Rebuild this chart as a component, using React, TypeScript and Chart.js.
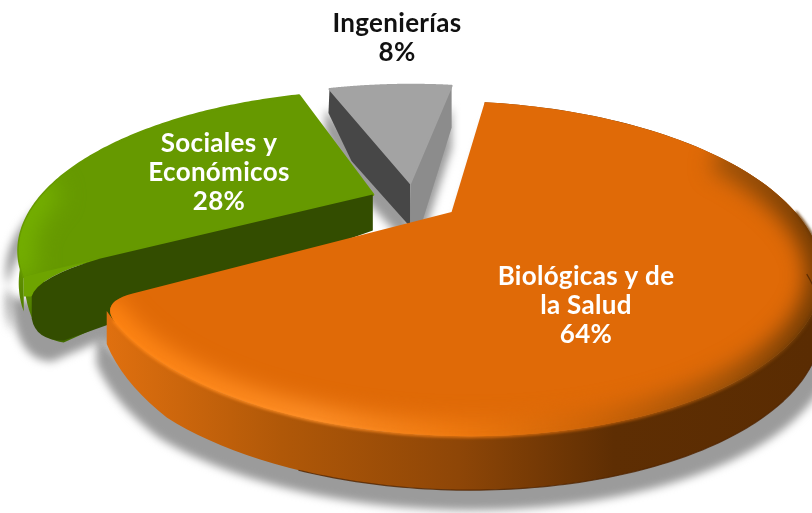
import React, { useEffect, useRef } from "react";
import { Chart, registerables } from "chart.js";

Chart.register(...registerables);

const categories = ["Biológicas y de la Salud", "Sociales y Económicos", "Ingenierías"];
const shares = [64, 28, 8];
const labelLines = [["Biológicas y de", "la Salud", "64%"], ["Sociales y", "Económicos", "28%"], ["Ingenierías", "8%"]];
const sliceColors = ["#e06a07", "#669900", "#a3a3a3"];

const CX = 414, CY = 201, RX = 335, RY = 141, P = 0.33;
const labelCenters = [[586, 306], [219, 173], [397, 38]];
const FONT = 'bold 26px "Lato"';

type Pt = [number, number];

const projector = {
  id: "projector",
  beforeDatasetsDraw(chart: any) {
    const ctx: CanvasRenderingContext2D = chart.ctx;
    const els = chart.getDatasetMeta(0).data;
    const slices = els.map((el: any) => {
      const s = el.getProps(["startAngle", "endAngle", "outerRadius"], true);
      const R = s.outerRadius;
      const d = el.options.offset / R;
      const mid = (s.startAngle + s.endAngle) / 2;
      const ou = d * Math.cos(mid), ov = d * Math.sin(mid);
      const at = (th: number, r = 1): Pt => {
        const u = ou + r * Math.cos(th), v = ov + r * Math.sin(th);
        const w = 1 - P * v;
        return [CX + (RX * u) / w, CY + (RY * v) / w];
      };
      return { a0: s.startAngle, a1: s.endAngle, at };
    });
    const arcPts = (s: any, a: number, b: number, h: (t: number) => number = () => 0) => {
      const n = 120, out: Pt[] = [];
      for (let i = 0; i <= n; i++) {
        const t = a + ((b - a) * i) / n;
        const p = s.at(t);
        out.push([p[0], p[1] + h(t)]);
      }
      return out;
    };
    const trace = (pts: Pt[], close = true) => {
      ctx.beginPath();
      pts.forEach((p, i) => (i ? ctx.lineTo(p[0], p[1]) : ctx.moveTo(p[0], p[1])));
      if (close) ctx.closePath();
    };
    const hGrad = (x0: number, x1: number, stops: [number, string][]) => {
      const g = ctx.createLinearGradient(x0, 0, x1, 0);
      stops.forEach(([o, c]) => g.addColorStop(o, c));
      return g;
    };
    const vGrad = (y0: number, y1: number, stops: [number, string][]) => {
      const g = ctx.createLinearGradient(0, y0, 0, y1);
      stops.forEach(([o, c]) => g.addColorStop(o, c));
      return g;
    };
    const [org, grn, gry] = slices;
    const orgH = (t: number) => {
      const left = org.a1 - t;
      const taper = left < 0.35 ? 0.45 + 0.55 * Math.sqrt(left / 0.35) : 1;
      return (46 + 8 * Math.max(0, Math.sin(t))) * taper;
    };
    const grnH = (t: number) => 25 + 20 * Math.max(0, Math.sin(t));
    const apexO: Pt = org.at(0, 0), apexG: Pt = grn.at(0, 0), apexY: Pt = gry.at(0, 0);

    const cO: Pt = org.at(org.a1);
    const eO: Pt = [cO[0] + (apexO[0] - cO[0]) * 0.09, cO[1] + (apexO[1] - cO[1]) * 0.09];
    const orgArc = arcPts(org, org.a0, org.a1 - 0.1);
    const orgTopPath = () => {
      ctx.beginPath();
      ctx.moveTo(apexO[0], apexO[1]);
      orgArc.forEach((p) => ctx.lineTo(p[0], p[1]));
      ctx.quadraticCurveTo(cO[0], cO[1], eO[0], eO[1]);
      ctx.closePath();
    };
    const orgTop: Pt[] = [apexO, ...orgArc, cO];
    const orgWall = [...arcPts(org, org.a0, org.a1 - 0.05), ...arcPts(org, org.a0, org.a1 - 0.05, orgH).reverse()];

    const grnTop = [apexG, ...arcPts(grn, grn.a0, grn.a1)];
    const corner: Pt = grn.at(grn.a0);
    const apexGB: Pt = [apexG[0], apexG[1] + 36];
    const grnWall = [...arcPts(grn, grn.a0, grn.a1), ...arcPts(grn, grn.a0, grn.a1, grnH).reverse()];

    const gryTop = [apexY, ...arcPts(gry, gry.a0, gry.a1)];
    const gA: Pt = gry.at(gry.a0), gB: Pt = gry.at(gry.a1);
    const gryLeft: Pt[] = [gA, apexY, [apexY[0], apexY[1] + 44], [gA[0] + 22, gA[1] + 72], [gA[0] - 1, gA[1] + 24]];
    const gryRight: Pt[] = [gB, apexY, [apexY[0], apexY[1] + 46], [gB[0] - 29, gB[1] + 135], [gB[0], gB[1] + 42]];

    ctx.save();
    // soft ground shadow
    ctx.save();
    ctx.filter = "blur(4px)";
    ctx.fillStyle = "#9b9b9b";
    ctx.translate(450, 20);
    ctx.scale(1.03, 1);
    ctx.translate(-450, 0);
    [orgWall, orgTop, grnWall, gryLeft, gryRight].forEach((p) => {
      trace(p);
      ctx.fill();
    });
    ctx.beginPath();
    ctx.moveTo(corner[0], corner[1]);
    ctx.quadraticCurveTo(corner[0] + 4, corner[1] + 65, corner[0] + 40, corner[1] + 65);
    ctx.lineTo(corner[0] + 120, corner[1] + 30);
    ctx.closePath();
    ctx.fill();
    ctx.restore();

    // grey slice
    ctx.fillStyle = "#474747";
    trace(gryLeft);
    ctx.fill();
    ctx.fillStyle = "#8c8c8c";
    trace(gryRight);
    ctx.fill();
    ctx.fillStyle = sliceColors[2];
    ctx.strokeStyle = sliceColors[2];
    ctx.lineWidth = 2;
    ctx.lineJoin = "round";
    trace(gryTop);
    ctx.fill();
    ctx.stroke();

    // green slice
    ctx.fillStyle = vGrad(240, 350, [[0, "#6fa600"], [1, "#3e6500"]]);
    trace(grnWall);
    ctx.fill();
    ctx.beginPath();
    ctx.moveTo(corner[0], corner[1]);
    ctx.quadraticCurveTo(corner[0] + 3, corner[1] + 62, corner[0] + 40, corner[1] + 66);
    ctx.lineTo(corner[0] + 120, corner[1] + 30);
    ctx.closePath();
    ctx.fill();
    ctx.fillStyle = sliceColors[1];
    ctx.strokeStyle = sliceColors[1];
    ctx.lineWidth = 3;
    trace(grnTop);
    ctx.fill();
    ctx.stroke();
    ctx.save();
    trace(grnTop);
    ctx.clip();
    ctx.filter = "blur(12px)";
    ctx.strokeStyle = "#76b200";
    ctx.lineWidth = 28;
    trace(arcPts(grn, grn.a0, grn.a0 + 0.6), false);
    ctx.stroke();
    ctx.restore();
    const t1 = 0.78;
    const p1: Pt = [apexG[0] + (corner[0] - apexG[0]) * t1, apexG[1] + (corner[1] - apexG[1]) * t1];
    ctx.fillStyle = "#6ea400";
    ctx.beginPath();
    ctx.moveTo(p1[0], p1[1]);
    ctx.quadraticCurveTo(corner[0] + 14, corner[1] + 0, corner[0] + 8, corner[1] + 20);
    ctx.lineTo(corner[0], corner[1] + 20);
    ctx.lineTo(corner[0], corner[1]);
    ctx.closePath();
    ctx.fill();
    ctx.fillStyle = "#334d00";
    ctx.beginPath();
    ctx.moveTo(apexG[0], apexG[1]);
    ctx.lineTo(p1[0], p1[1]);
    ctx.quadraticCurveTo(corner[0] + 14, corner[1] + 0, corner[0] + 8, corner[1] + 20);
    ctx.lineTo(corner[0] + 8, corner[1] + 42);
    ctx.quadraticCurveTo(corner[0] + 12, corner[1] + 64, corner[0] + 40, corner[1] + 64);
    ctx.lineTo(apexGB[0], apexGB[1]);
    ctx.closePath();
    ctx.fill();

    // orange slice
    ctx.fillStyle = hGrad(105, 812, [
      [0, "#e0700f"],
      [0.25, "#b05808"],
      [0.5, "#8e4607"],
      [0.72, "#5e2e03"],
      [1, "#5a2c02"],
    ]);
    trace(orgWall);
    ctx.fill();
    ctx.fillStyle = sliceColors[0];
    orgTopPath();
    ctx.fill();
    const rimStroke = hGrad(105, 812, [
      [0, "#ff8412"],
      [0.3, "#ff9028"],
      [0.5, "#ef7a10"],
      [0.68, "#cf6508"],
      [0.88, "#9a5008"],
      [1, "#6a3804"],
    ]);
    ctx.save();
    orgTopPath();
    ctx.clip();
    ctx.filter = "blur(11px)";
    ctx.strokeStyle = rimStroke;
    ctx.lineWidth = 30;
    trace(arcPts(org, -0.45, org.a1), false);
    ctx.stroke();
    ctx.restore();
    // soft seam between top face and wall
    ctx.save();
    ctx.filter = "blur(1.5px)";
    ctx.strokeStyle = rimStroke;
    ctx.lineWidth = 3;
    trace(arcPts(org, 0, org.a1 - 0.1), false);
    ctx.stroke();
    ctx.restore();
    ctx.strokeStyle = "rgba(80,36,0,0.8)";
    ctx.lineWidth = 1.2;
    trace(arcPts(org, 0.1, org.a1 - 0.7, orgH), false);
    ctx.stroke();

    // labels
    ctx.font = FONT;
    ctx.textAlign = "center";
    ctx.textBaseline = "middle";
    (ctx as any).letterSpacing = "0.3px";
    labelLines.forEach((lines, i) => {
      ctx.fillStyle = i === 2 ? "#111111" : "#ffffff";
      const [lx, ly] = labelCenters[i];
      lines.forEach((line, j) => {
        ctx.fillText(line, lx, ly + (j - (lines.length - 1) / 2) * 29);
      });
    });
    ctx.restore();
    return false;
  },
};

export default function App() {
  const ref = useRef<HTMLCanvasElement>(null);
  useEffect(() => {
    const chart = new Chart(ref.current!, {
      type: "pie",
      data: {
        labels: categories,
        datasets: [{ data: shares, backgroundColor: sliceColors, offset: 32, borderWidth: 0 }],
      },
      options: {
        animation: false,
        responsive: false,
        rotation: 9.5,
        plugins: { legend: { display: false }, tooltip: { enabled: false } },
      },
      plugins: [projector],
    } as any);
    return () => chart.destroy();
  }, []);
  return (
    <div style={{ position: "absolute", left: 0, top: 0, width: 812, height: 513, background: "#fff", overflow: "hidden" }}>
      <canvas ref={ref} width={812} height={513} style={{ display: "block" }} />
    </div>
  );
}
